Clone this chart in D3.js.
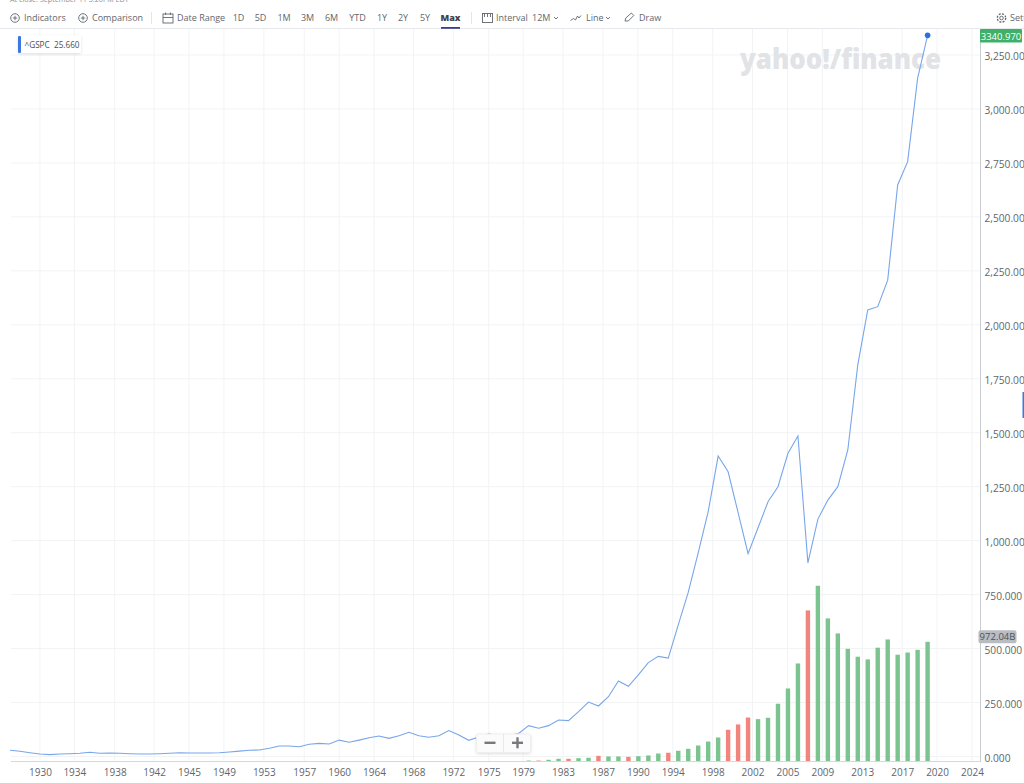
<!DOCTYPE html>
<html><head><meta charset="utf-8">
<script src="https://cdn.jsdelivr.net/npm/d3@7"></script>
<style>
html,body{margin:0;padding:0;background:#fff;overflow:hidden}
svg{display:block}
text{font-family:"Open Sans","Noto Sans",sans-serif}
</style></head><body>
<svg id="c" width="1024" height="783"></svg>
<script>
const startYear = 1927;
const closes = [28.7,24,17.6,11.6,8.5,11.6,13,15,19.5,15,16,15,13,11.6,11.6,13,15,17.6,16,16,16.5,17.6,21,25,28.7,30,
38,48.6,48.6,45.4,56.5,61,58,76,66,76,87,95,84,96,112,96,89,96,120,100,75,90,105,95,96,107,
143,131,143,169,166,208,252,234,277,350,325,378,435,464,456,610,760,943,1134,1392,1319,1130,940,1060,1180,1250,1405,1485,897,1100,1188,1250,1420,1814,2069,2084,2207,2648,2756,3143,3340.97];
const volumeStartYear = 1979;
const volumes = [8,8,14,22,22,27,30,46,41,41,38,43,49,65,71,87,103,130,162,195,258,301,357,344,355,469,593,796,1227,1427,1162,1040,915,851,829,924,991,867,885,907,972.04];
const priceTicks = [0,250,500,750,1000,1250,1500,1750,2000,2250,2500,2750,3000,3250];
const timeLabels = ["1930","1934","1938","1942","1945","1949","1953","1957","1960","1964","1968","1972","1975","1979","1983","1987","1990","1994","1998","2002","2005","2009","2013","2017","2020","2024"];
const timeTickAt = [1930,1933.45,1937.5,1941.45,1944.95,1948.45,1952.45,1956.5,1960,1963.5,1967.45,1971.45,1975,1978.45,1982.45,1986.45,1989.95,1993.45,1997.45,2001.45,2004.95,2008.45,2012.45,2016.45,2019.95,2023.45];
const periods = ["1D","5D","1M","3M","6M","YTD","1Y","2Y","5Y"];
const periodAt = [238.5,260.5,284,307.5,331.5,357.5,382,403,425];

const svg = d3.select("#c");
const gray = "#5f666d";
const x = d3.scaleLinear().domain([1927,2019]).range([10,927.6]);
const y = d3.scaleLinear().domain([0,3250]).range([756.5,55]);
const vy = d3.scaleLinear().domain([0,972.04]).range([761.5,641.8]);
const grid = "#f1f3f5";

// top caption, cropped by the window
svg.append("text").attr("x",10).attr("y",1.5).attr("font-size",7.2).attr("fill","#8a9097").text("At close: September 11 5:26PM EDT");

// gridlines
svg.append("g").selectAll("line").data(priceTicks.slice(1)).join("line")
  .attr("x1",11).attr("x2",980).attr("y1",d=>y(d)).attr("y2",d=>y(d)).attr("stroke",grid);
svg.append("line").attr("x1",11).attr("x2",980).attr("y1",y(0)).attr("y2",y(0)).attr("stroke",grid);
svg.append("g").selectAll("line").data(timeTickAt).join("line")
  .attr("x1",d=>x(d)).attr("x2",d=>x(d)).attr("y1",29).attr("y2",761).attr("stroke",grid);

// watermark
svg.append("text").attr("x",740).attr("y",69).attr("font-size",28.5).attr("font-weight",800)
  .attr("fill","#e1e3e6").attr("textLength",201).attr("lengthAdjust","spacingAndGlyphs").text("yahoo!/finance");

// volume bars
svg.append("g").selectAll("rect").data(volumes).join("rect")
  .attr("x",(d,i)=>x(volumeStartYear+i)-2.2).attr("width",4.4)
  .attr("y",d=>vy(d)).attr("height",d=>vy(0)-vy(d))
  .attr("fill",(d,i)=>{const k=volumeStartYear+i-startYear;return closes[k]<closes[k-1]?"#f2847e":"#7bc48f";});

// price line
const line = d3.line().x((d,i)=>x(startYear+i)).y(d=>y(d));
svg.append("path").attr("d",line(closes)).attr("fill","none").attr("stroke","#78a6ea").attr("stroke-width",1.1);
svg.append("circle").attr("cx",x(2019)).attr("cy",y(closes[closes.length-1])).attr("r",2.8).attr("fill","#2a6fdd");

// axes
const xAxis = d3.axisBottom(x).tickValues(timeTickAt).tickSize(0).tickPadding(7)
  .tickFormat((d,i)=>timeLabels[i]);
const gx = svg.append("g").attr("transform","translate(0,761.5)").call(xAxis);
gx.select(".domain").remove();
gx.selectAll("text").attr("font-size",10).attr("fill",gray).attr("font-family",'"Open Sans"');
svg.append("line").attr("x1",11).attr("x2",980).attr("y1",761.5).attr("y2",761.5).attr("stroke","#d5d8dc");

const fmt = d3.format(",.3f");
const yAxis = d3.axisRight(y).tickValues(priceTicks).tickSize(0).tickPadding(4).tickFormat(fmt);
const gy = svg.append("g").attr("transform","translate(980.5,1.5)").call(yAxis);
gy.select(".domain").remove();
gy.selectAll("text").attr("font-size",10.2).attr("fill",gray).attr("font-family",'"Open Sans"');
svg.append("line").attr("x1",980.5).attr("x2",980.5).attr("y1",29).attr("y2",762).attr("stroke","#c8ccd0");

// header rule
svg.append("line").attr("x1",0).attr("x2",1024).attr("y1",28.5).attr("y2",28.5).attr("stroke","#e6e8eb");

// value tags
svg.append("rect").attr("x",980).attr("y",29).attr("width",42).attr("height",13.5).attr("fill","#3fb068").attr("rx",1);
svg.append("text").attr("x",1001).attr("y",39.6).attr("text-anchor","middle").attr("font-size",9.5).attr("fill","#fff").text(d3.format(".3f")(closes[closes.length-1]));
const volTagY = vy(volumes[volumes.length-1])-11.5;
svg.append("rect").attr("x",978.5).attr("y",volTagY).attr("width",38).attr("height",13).attr("fill","#b9bcc0").attr("rx",2);
svg.append("text").attr("x",997.5).attr("y",volTagY+10).attr("text-anchor","middle").attr("font-size",9.5).attr("fill","#4d5257").text(d3.format(".2f")(volumes[volumes.length-1])+"B");

// right-edge marker
svg.append("rect").attr("x",1022.5).attr("y",392).attr("width",1.5).attr("height",26).attr("fill","#3b7be0");

// legend chip
const shadow = svg.append("defs").append("filter").attr("id","sh").attr("x","-20%").attr("y","-30%").attr("width","140%").attr("height","170%");
shadow.append("feDropShadow").attr("dx",0).attr("dy",1).attr("stdDeviation",1.5).attr("flood-color","#000").attr("flood-opacity",0.13);
svg.append("rect").attr("x",18).attr("y",35.5).attr("width",63).attr("height",17.5).attr("rx",2).attr("fill","#fff").attr("filter","url(#sh)");
svg.append("rect").attr("x",18).attr("y",36).attr("width",3).attr("height",17).attr("rx",1).attr("fill","#3b78e0");
svg.append("text").attr("x",24.5).attr("y",47.5).attr("font-size",8.2).attr("fill","#464e56").attr("xml:space","preserve").text("^GSPC  25.660");

// zoom widget
const zg = svg.append("g");
zg.append("rect").attr("x",476.5).attr("y",734).attr("width",54).attr("height",18.5).attr("rx",2).attr("fill","#fbfbfb").attr("stroke","#eeeeee").attr("filter","url(#sh)");
zg.append("line").attr("x1",503.5).attr("x2",503.5).attr("y1",734).attr("y2",752).attr("stroke","#e9e9e9");
zg.append("rect").attr("x",484.5).attr("y",741.6).attr("width",11).attr("height",2.4).attr("fill","#77797c");
zg.append("rect").attr("x",512).attr("y",741.6).attr("width",11).attr("height",2.4).attr("fill","#77797c");
zg.append("rect").attr("x",516.3).attr("y",737.3).attr("width",2.4).attr("height",11).attr("fill","#77797c");

// toolbar
const bar = svg.append("g").attr("font-size",9).attr("fill",gray);
const label = (t,px,anchor,weight,fill)=>bar.append("text").attr("x",px).attr("y",21.3).attr("text-anchor",anchor||"start")
  .attr("font-weight",weight||400).attr("fill",fill||gray).text(t);
const ico = svg.append("g").attr("fill","none").attr("stroke","#5f666d").attr("stroke-width",0.9);
const plusIcon = cx=>{
  ico.append("circle").attr("cx",cx).attr("cy",18).attr("r",4.3);
  ico.append("path").attr("d",`M${cx-2.2},18H${cx+2.2}M${cx},15.8V20.2`);
};
plusIcon(15); label("Indicators",24);
plusIcon(83); label("Comparison",92);
svg.append("line").attr("x1",151.5).attr("x2",151.5).attr("y1",12).attr("y2",24).attr("stroke","#e3e5e8");
ico.append("rect").attr("x",163).attr("y",14).attr("width",10).attr("height",9);
ico.append("path").attr("d","M163,17.5H173M165.5,12.5V15M170.5,12.5V15");
label("Date Range",177);
periods.forEach((p,i)=>label(p,periodAt[i],"middle"));
label("Max",450.5,"middle",800,"#3f4349");
svg.append("rect").attr("x",441).attr("y",27).attr("width",19).attr("height",1.8).attr("fill","#3c3b8f");
svg.append("line").attr("x1",471.5).attr("x2",471.5).attr("y1",12).attr("y2",24).attr("stroke","#e3e5e8");
ico.append("rect").attr("x",482.5).attr("y",13.5).attr("width",10).attr("height",9);
ico.append("path").attr("d","M484.5,13.5V17M487.5,13.5V17M490.5,13.5V17");
label("Interval",496); label("12M",532);
ico.append("path").attr("d","M554,17l2,2l2,-2");
ico.append("path").attr("d","M570.5,20.5l3,-2l2,1.5l2,-4l1.5,2l2,-2.5");
label("Line",586);
ico.append("path").attr("d","M606,17l2,2l2,-2");
ico.append("path").attr("d","M625,21l0.8,-3l5.5,-5l2.5,2.5l-5.5,5.5z");
label("Draw",639);
ico.append("circle").attr("cx",1001.5).attr("cy",18).attr("r",1.8);
ico.append("circle").attr("cx",1001.5).attr("cy",18).attr("r",4.2).attr("stroke-dasharray","2 1.3").attr("stroke-width",1.3);
label("Settings",1010);
</script>
</body></html>
